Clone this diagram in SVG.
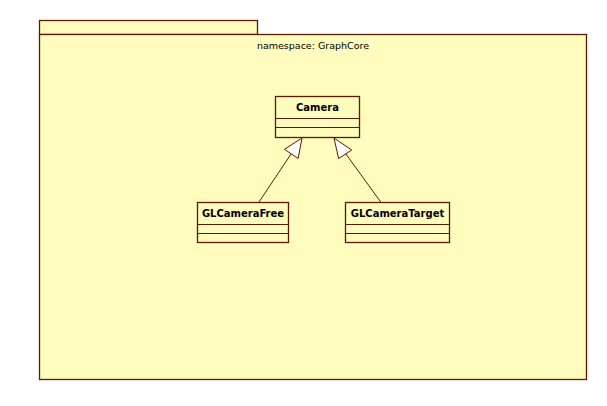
<svg xmlns="http://www.w3.org/2000/svg" width="607" height="406" viewBox="0 0 607 406">
<style>
.shape{fill:#fffcbd;stroke:#5a1a00;stroke-width:1.3}
.line{fill:none;stroke:#5a1a00;stroke-width:1}
.head{fill:#ffffff;stroke:#5a1a00;stroke-width:1}
.cls{font-family:"DejaVu Sans",sans-serif;font-size:10px;font-weight:bold;fill:#000;text-anchor:middle}
.ns{font-family:"DejaVu Sans",sans-serif;font-size:9.5px;fill:#000;text-anchor:middle}
</style>
<rect width="607" height="406" fill="#ffffff"/>
<g id="package">
<rect class="shape" x="39.5" y="20.5" width="218" height="14"/>
<rect class="shape" x="39.5" y="34.5" width="547" height="345"/>
<text class="ns" x="313" y="49">namespace: GraphCore</text>
</g>
<g id="Camera">
<rect class="shape" x="275.5" y="96.5" width="84" height="41"/>
<line class="line" x1="275.5" y1="118.5" x2="359.5" y2="118.5"/>
<line class="line" x1="275.5" y1="127.5" x2="359.5" y2="127.5"/>
<text class="cls" x="317.5" y="111">Camera</text>
</g>
<g id="GLCameraFree">
<rect class="shape" x="197.5" y="202.5" width="91" height="40"/>
<line class="line" x1="197.5" y1="224.5" x2="288.5" y2="224.5"/>
<line class="line" x1="197.5" y1="233.5" x2="288.5" y2="233.5"/>
<text class="cls" x="243" y="216.5">GLCameraFree</text>
</g>
<g id="GLCameraTarget">
<rect class="shape" x="345.5" y="202.5" width="104" height="40"/>
<line class="line" x1="345.5" y1="224.5" x2="449.5" y2="224.5"/>
<line class="line" x1="345.5" y1="233.5" x2="449.5" y2="233.5"/>
<text class="cls" x="397.5" y="216.5">GLCameraTarget</text>
</g>
<g id="connectors">
<line class="line" x1="259" y1="202" x2="291.5" y2="153.3"/>
<polygon class="head" points="302,138 298.2,158.5 284.5,149.3"/>
<line class="line" x1="380.7" y1="202" x2="345.1" y2="152.9"/>
<polygon class="head" points="334,138 351.7,150 338.6,158.5"/>
</g>
</svg>
